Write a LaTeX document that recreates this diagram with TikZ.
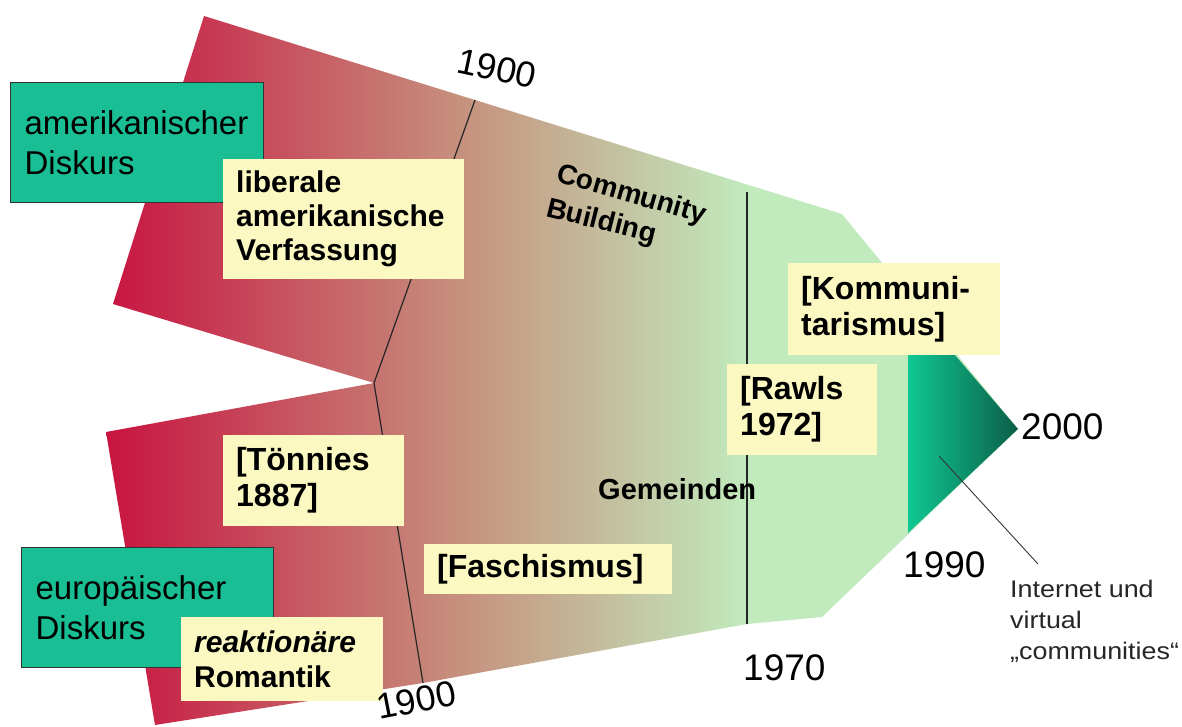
\documentclass[tikz,border=0pt]{standalone}
\usepackage{fontspec}
\setmainfont{Liberation Sans}
\newfontfamily\notefont[FakeStretch=1.12]{Liberation Sans}
\hyphenpenalty=10000
\exhyphenpenalty=10000

\definecolor{crimson}{RGB}{200,18,63}
\definecolor{tan}{RGB}{198,148,128}
\definecolor{mint}{RGB}{193,234,189}
\definecolor{tealbox}{RGB}{26,190,148}
\definecolor{cream}{RGB}{252,248,194}
\definecolor{tipbright}{RGB}{16,200,146}
\definecolor{tipdark}{RGB}{11,94,72}

\begin{document}
\begin{tikzpicture}[x=1pt,y=-1pt,
  discourse/.style={draw=black!80, line width=1.2pt, fill=tealbox, anchor=north west,
    inner xsep=14pt, inner ysep=0pt, align=left, font=\fontsize{33}{40}\selectfont},
  notebox/.style={fill=cream, anchor=north west, inner xsep=13pt, inner ysep=0pt,
    align=left, font=\bfseries\fontsize{32}{36}\selectfont},
  yearlabel/.style={anchor=base west, inner sep=0pt, font=\fontsize{37}{40}\selectfont},
  yearline/.style={line width=1.2pt, black!85},
  bandlabel/.style={anchor=base west, inner sep=0pt, font=\bfseries\fontsize{28}{30}\selectfont},
]
\useasboundingbox (0,0) rectangle (1182,727);

% outline of the two strands merging into one band
\coordinate (ua) at (204,16);
\coordinate (y1top) at (475,100);
\coordinate (ub) at (842,214);
\coordinate (tip) at (1018,429);
\coordinate (lc) at (822,617);
\coordinate (y70bot) at (747,624);
\coordinate (y1bot) at (423,683);
\coordinate (la) at (155,725);
\coordinate (lb) at (106,432);
\coordinate (notch) at (374,383);
\coordinate (uc) at (113,304);

\begin{scope}
  \clip (ua) -- (y1top) -- (ub) -- (tip) -- (lc) -- (y70bot) -- (y1bot) -- (la)
        -- (lb) -- (notch) -- (uc) -- cycle;
  \shade[left color=crimson, right color=tan] (100,0) rectangle (471,727);
  \shade[left color=tan, right color=mint] (470,0) rectangle (746,727);
  \fill[mint] (745,0) rectangle (1030,727);
\end{scope}

% time markers
\coordinate (y70top) at (747,192);
\draw[yearline] (y1top) -- (notch) -- (y1bot);
\draw[yearline] (y70top) -- (y70bot);

% internet era wedge
\coordinate (wa) at (908,300);
\coordinate (wb) at (908,533);
\shade[left color=tipbright, right color=tipdark] (wa) -- (tip) -- (wb) -- cycle;

\coordinate (ptrA) at (939,456);
\coordinate (ptrB) at (1038,564);
\draw[line width=0.9pt, black!80] (ptrA) -- (ptrB);

% discourse boxes
\node[discourse, text width=225pt, minimum height=120pt] (amdisk) at (10,82) {amerikanischer\\Diskurs};
\node[discourse, text width=224pt, minimum height=120pt] (eudisk) at (21,547) {europäischer\\Diskurs};

% notes
\node[notebox, text width=215pt, minimum height=120pt, font=\bfseries\fontsize{30}{34}\selectfont] (verf) at (223,159) {liberale\\amerikanische\\Verfassung};
\node[notebox, text width=155pt, minimum height=91pt] (toen) at (223,435) {[Tönnies\\1887]};
\node[notebox, text width=222pt, minimum height=50pt] (fasch) at (424,544) {[Faschismus]};
\node[notebox, text width=176pt, minimum height=84pt, font=\bfseries\fontsize{30}{35}\selectfont] (romant) at (181,617) {\textit{reaktionäre}\\Romantik};
\node[notebox, text width=124pt, minimum height=91pt] (rawls) at (727,364) {[Rawls\\1972]};
\node[notebox, text width=186pt, minimum height=92pt] (komm) at (788,263) {[Kommuni-\\tarismus]};

% free labels
\node[bandlabel, rotate=-16] (commA) at (555,181) {Community};
\node[bandlabel, rotate=-14] (commB) at (545,216) {Building};
\node[anchor=base west, inner sep=0pt, font=\bfseries\fontsize{29}{32}\selectfont] (gem) at (598,499) {Gemeinden};

% years
\node[yearlabel, rotate=-12, font=\fontsize{36}{40}\selectfont] (yr1900a) at (455,72) {1900};
\node[yearlabel, rotate=11, font=\fontsize{36}{40}\selectfont] (yr1900b) at (379,720) {1900};
\node[yearlabel] (yr1970) at (743,680) {1970};
\node[yearlabel] (yr1990) at (903,577) {1990};
\node[yearlabel] (yr2000) at (1021,439) {2000};

\node[anchor=north west, inner sep=0pt, align=left, text=black!85, font=\notefont\fontsize{24}{31}\selectfont] (inet) at (1010,580) {Internet und\\virtual\\„communities“};
\end{tikzpicture}
\end{document}
